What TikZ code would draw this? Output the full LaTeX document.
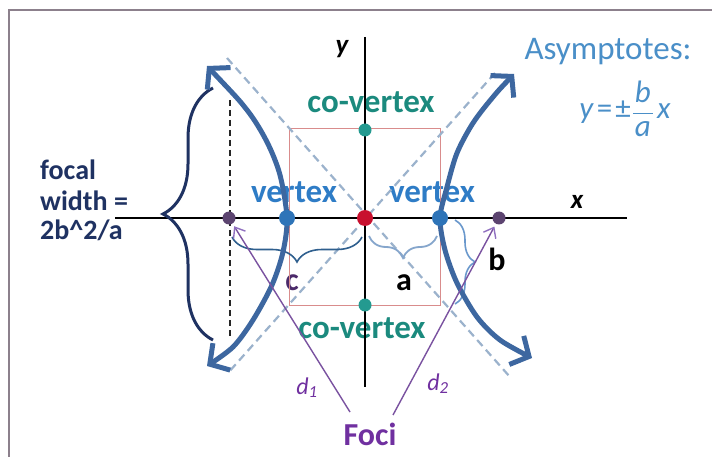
\documentclass[tikz,border=0pt]{standalone}
\usepackage{fontspec}
\setmainfont{Carlito}
\usetikzlibrary{arrows.meta,decorations.pathreplacing,calc}
\definecolor{framec}{HTML}{8C808C}
\definecolor{hypc}{HTML}{3D67A0}
\definecolor{asyc}{HTML}{9BB2CC}
\definecolor{rectc}{HTML}{D98C8C}
\definecolor{vtxc}{HTML}{2E74B8}
\definecolor{vtxt}{HTML}{2E7CC6}
\definecolor{ctrc}{HTML}{C8102E}
\definecolor{focc}{HTML}{5C4470}
\definecolor{covc}{HTML}{249A90}
\definecolor{covt}{HTML}{1B8A7E}
\definecolor{navyc}{HTML}{1F3262}
\definecolor{focit}{HTML}{7030A0}
\definecolor{purpc}{HTML}{7A52A0}
\definecolor{purpa}{HTML}{9070C0}
\definecolor{cbrc}{HTML}{2F5F8E}
\definecolor{abrc}{HTML}{86A6CC}
\definecolor{bbrc}{HTML}{6A98CC}
\definecolor{asytxt}{HTML}{4A8FC8}
\definecolor{ctxt}{HTML}{4B2A6A}
\newcommand\fsz[1]{\fontsize{#1}{#1}\selectfont}
\begin{document}
\begin{tikzpicture}[x=1pt,y=-1pt,
  dot/.style={circle,inner sep=0pt,minimum size=#1},
  dot/.default=12pt,
  lbl/.style={inner sep=0pt,anchor=base},
  axisline/.style={black,line width=2pt},
  asy/.style={asyc,line width=2.2pt,dash pattern=on 8pt off 5pt},
  hyp/.style={hypc,line width=5pt,{Straight Barb[length=14pt,width=32pt]}-{Straight Barb[length=14pt,width=32pt]}},
  bracec/.style={decorate,decoration={brace,amplitude=#1}},
  focline/.style={purpc,line width=1.4pt,-{Straight Barb[length=9pt,width=14pt,color=purpa]}}
]
\useasboundingbox (0,0) rectangle (712,457);
\fill[white] (0,0) rectangle (712,457);
\draw[framec,line width=2.5pt] (9,457) -- (9,10) -- (712,10);

% texts (under the lines)
\node[lbl,font=\fsz{33}\bfseries,text=covt] (cvt1) at (371,113) {co-vertex};
\node[lbl,font=\fsz{33}\bfseries,text=covt] (cvt2) at (362,338) {co-vertex};
\node[lbl,font=\fsz{33}\bfseries,text=vtxt] (vt1) at (294,203) {vertex};
\node[lbl,font=\fsz{33}\bfseries,text=vtxt] (vt2) at (432,203) {vertex};
\node[lbl,font=\fsz{33},text=asytxt] (asy) at (608,60) {Asymptotes:};
\node[lbl,font=\fsz{31},text=asytxt] (formula) at (625,119) {\textit{y}\kern3pt=\kern3pt±\kern1pt$\displaystyle\frac{\kern2pt\textit{b}\kern2pt}{\kern2pt\textit{a}\kern2pt}$\kern3pt\textit{x}};
\node[inner sep=0pt,anchor=north west,align=left,font=\fsz{28}\bfseries,text=navyc] (focal) at (40,160) {focal\\[3pt]width =\\[1pt]2b\^{}2/a};
\node[lbl,font=\fsz{32}\bfseries] (la) at (404,290) {a};
\node[lbl,font=\fsz{32}\bfseries] (lb) at (497,270) {b};
\node[lbl,font=\fsz{32}\bfseries,text=ctxt] (lc) at (292,290) {c};
\node[lbl,font=\fsz{32}\bfseries,text=focit] (foci) at (370,445) {Foci};
\node[lbl,font=\fsz{27}\bfseries\itshape] (ly) at (342,54) {y};
\node[lbl,font=\fsz{27}\bfseries\itshape] (lx) at (577,208) {x};
\node[lbl,font=\fsz{24}\itshape,text=focit] (ld1) at (307,394) {d\textsubscript{1}};
\node[lbl,font=\fsz{24}\itshape,text=focit] (ld2) at (438,390) {d\textsubscript{2}};

% rectangle and asymptotes
\draw[rectc,line width=1pt] (289,129) rectangle (440,305);
\draw[asy] (227,58) -- (510,377);
\draw[asy] (495,73) -- (228,373);

% axes
\draw[axisline] (115,218) -- (627,218);
\draw[axisline] (365,37) -- (365,387);

% latus rectum
\draw[black!85,line width=1.6pt,dash pattern=on 6pt off 4pt] (230,100) -- (230,336);

% braces
\draw[navyc,line width=3pt,bracec=50pt] (213,340) -- (213,88);
\draw[cbrc,line width=1.6pt,bracec=25pt] (362,237) -- (232,237);
\draw[abrc,line width=1.8pt,bracec=22pt] (437,236) -- (369,236);
\draw[bbrc,line width=1.6pt,bracec=20pt] (455,220) -- (455,304);

% hyperbola
\draw[hyp] plot[smooth] coordinates {(207,66) (247,110) (267,142) (280,175) (287,218) (283,252) (272,285) (253,320) (233,347) (207,366)};
\draw[hyp] plot[smooth] coordinates {(514,74) (493,97) (473,123) (457,153) (447,187) (440,218) (445,250) (457,283) (477,317) (500,340) (532,358)};

% points
\node[dot=16pt,fill=vtxc] (V1) at (287,218) {};
\node[dot=16pt,fill=vtxc] (V2) at (440,218) {};
\node[dot=16pt,fill=ctrc] (O) at (365,218) {};
\node[dot=13pt,fill=focc] (F1) at (229,218) {};
\node[dot=13pt,fill=focc] (F2) at (499,218) {};
\node[dot=13pt,fill=covc] (B1) at (365,130) {};
\node[dot=13pt,fill=covc] (B2) at (365,305) {};

% focal distance lines
\coordinate (d1s) at (350,412);
\coordinate (d2s) at (393,415);
\draw[focline,shorten >=3pt] (d1s) -- (F1);
\draw[focline,shorten >=3pt] (d2s) -- (F2);
\end{tikzpicture}
\end{document}
